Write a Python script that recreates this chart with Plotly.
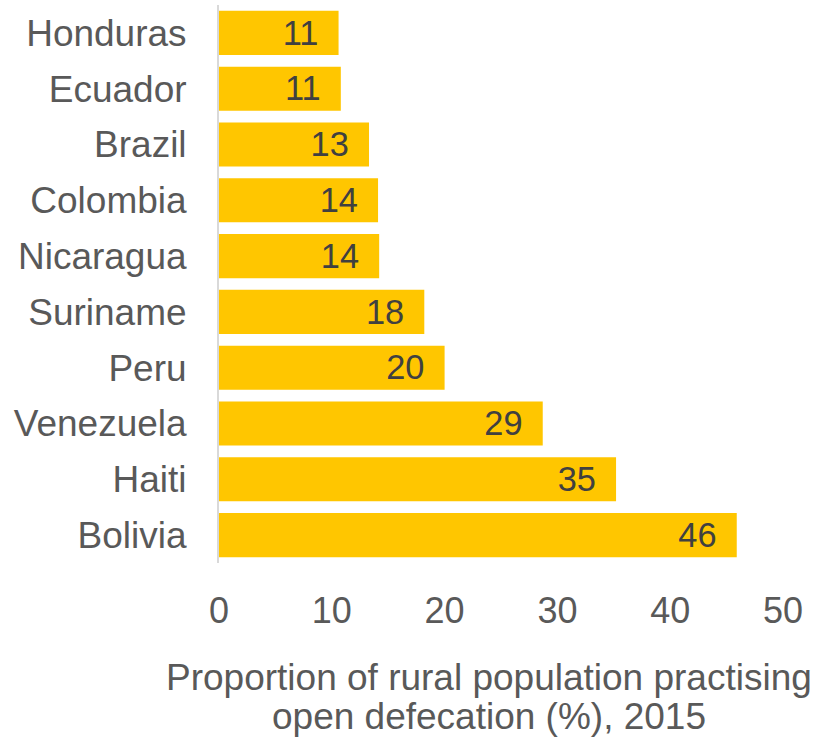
import plotly.graph_objects as go

countries = ["Honduras", "Ecuador", "Brazil", "Colombia", "Nicaragua",
             "Suriname", "Peru", "Venezuela", "Haiti", "Bolivia"]
values = [10.6, 10.8, 13.3, 14.1, 14.2, 18.2, 20.0, 28.7, 35.2, 45.9]
x_ticks = [0, 10, 20, 30, 40, 50]
axis_title_lines = ["Proportion of rural population practising",
                    "open defecation (%), 2015"]

W, H = 815, 738
L, R, T, B = 219, 32, 5, 175
plot_h = H - T - B
FONT = "Liberation Sans, Arial, sans-serif"

fig = go.Figure(go.Bar(
    y=countries,
    x=values,
    orientation="h",
    marker=dict(color="#FFC600", line=dict(width=0)),
    texttemplate="%{x:.0f}\u2002",
    textposition="inside",
    insidetextanchor="end",
    textangle=0,
    insidetextfont=dict(family=FONT, size=37, color="#404040"),
    cliponaxis=False,
    hoverinfo="skip",
))

fig.update_layout(
    width=W, height=H,
    margin=dict(l=L, r=R, t=T, b=B, pad=0),
    paper_bgcolor="white",
    plot_bgcolor="white",
    bargap=0.21,
    showlegend=False,
    uniformtext=dict(mode=False),
    font=dict(family=FONT, color="#595959"),
)

fig.update_xaxes(
    range=[0, 50],
    tickvals=x_ticks,
    ticktext=[str(v) for v in x_ticks],
    showgrid=False,
    zeroline=False,
    showline=False,
    ticks="",
    tickfont=dict(size=36, color="#595959"),
    ticklabelstandoff=23,
    fixedrange=True,
)

fig.update_yaxes(
    autorange="reversed",
    showgrid=False,
    zeroline=False,
    showline=True,
    linecolor="#D9D9D9",
    linewidth=2,
    ticks="",
    tickfont=dict(size=37, color="#595959"),
    ticklabelstandoff=23,
    fixedrange=True,
)

for line_text, y_px in zip(axis_title_lines, [677, 716]):
    fig.add_annotation(
        text=line_text,
        xref="paper", yref="paper",
        x=(489 - L) / (W - L - R),
        y=-(y_px - (T + plot_h)) / plot_h,
        xanchor="center", yanchor="middle",
        showarrow=False,
        font=dict(family=FONT, size=37, color="#595959"),
        align="center",
    )

fig.write_html(
    "out.html",
    config={"displayModeBar": False, "staticPlot": True},
    post_script="document.body.style.margin='0';document.body.style.overflow='hidden';",
)
